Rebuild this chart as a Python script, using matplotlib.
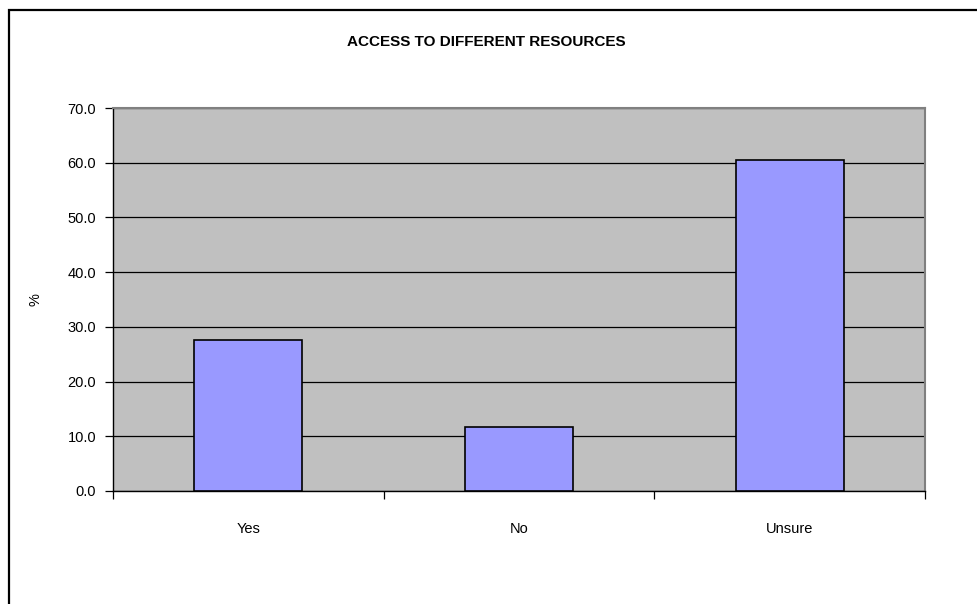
import matplotlib
matplotlib.use("Agg")
import matplotlib.pyplot as plt
from matplotlib.patches import Rectangle

categories = ["Yes", "No", "Unsure"]
values = [27.6, 11.7, 60.5]
yticks = [0, 10, 20, 30, 40, 50, 60, 70]
title = "ACCESS TO DIFFERENT RESOURCES"

plt.rcParams["font.family"] = ["Liberation Sans", "DejaVu Sans"]

W, H = 978, 604
fig = plt.figure(figsize=(W / 100, H / 100), dpi=100)
fig.patch.set_facecolor("white")

# chart frame (runs past the right and bottom edges)
frame = Rectangle((8.5 / W, -0.05), 1.1, 1 - 9.5 / H + 0.05,
                  transform=fig.transFigure, fill=False,
                  edgecolor="black", linewidth=1.6, clip_on=False)
fig.add_artist(frame)

ax = fig.add_axes([113 / W, 1 - 491 / H, 812 / W, 383 / H])
ax.set_facecolor("#C0C0C0")

x = list(range(len(categories)))
ax.set_axisbelow(True)
ax.yaxis.grid(True, color="black", linewidth=0.9)
ax.bar(x, values, width=0.4, color="#9999FF", edgecolor="black", linewidth=1.2, zorder=3)

ax.set_xlim(-0.5, len(categories) - 0.5)
ax.set_ylim(0, 70)
ax.set_yticks(yticks)
ax.set_yticklabels([f"{v:.1f}" for v in yticks], fontsize=10.5)
ax.tick_params(axis="y", direction="out", length=6, width=0.9, pad=6)

ax.set_xticks([i - 0.5 for i in range(len(categories) + 1)])
ax.set_xticklabels([])
ax.set_xticks(x, minor=True)
ax.set_xticklabels(categories, minor=True, fontsize=10.5)
ax.tick_params(axis="x", which="major", direction="out", length=6, width=0.9)
ax.tick_params(axis="x", which="minor", length=0, pad=22)

for side in ("top", "right"):
    ax.spines[side].set_color("#808080")
    ax.spines[side].set_linewidth(1.5)
for side in ("left", "bottom"):
    ax.spines[side].set_color("black")
    ax.spines[side].set_linewidth(1.0)

ax.set_ylabel("%", fontsize=10.5, labelpad=18)

fig.text(486 / W, 1 - 42 / H, title, ha="center", va="center",
         fontsize=11, fontweight="bold")

fig.savefig("out.png", dpi=100)
